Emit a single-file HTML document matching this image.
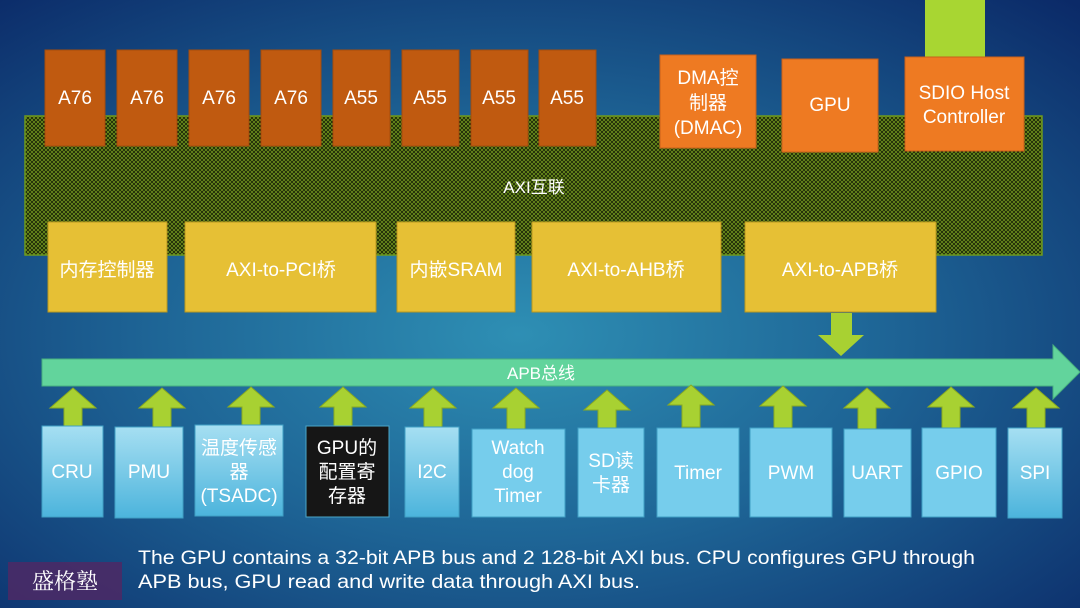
<!DOCTYPE html>
<html><head><meta charset="utf-8"><style>
body{margin:0;width:1080px;height:608px;overflow:hidden;font-family:"Liberation Sans","Noto Sans CJK SC",sans-serif;}
svg text{font-family:"Liberation Sans","Noto Sans CJK SC",sans-serif;fill:#fff;}
</style></head><body>
<svg width="1080" height="608" viewBox="0 0 1080 608" xmlns="http://www.w3.org/2000/svg">
<defs>
<radialGradient id="bg" cx="0.48" cy="0.55" r="0.75">
<stop offset="0" stop-color="#2e8fb4"/>
<stop offset="0.45" stop-color="#1e6596"/>
<stop offset="1" stop-color="#0b2a68"/>
</radialGradient>
<pattern id="hatch" width="4" height="4" patternUnits="userSpaceOnUse">
<rect width="4" height="4" fill="#101705"/>
<path d="M0 0L4 4M4 0L0 4" stroke="#66881a" stroke-width="1"/>
</pattern>
<linearGradient id="lb" x1="0" y1="0" x2="0" y2="1">
<stop offset="0" stop-color="#a6dff2"/><stop offset="1" stop-color="#4cb4dc"/>
</linearGradient>
<g id="up"><path d="M-9 38V16h-14L0 -4 23 16H9v22z" fill="#a8d132" stroke="#8aaa20" stroke-width="1"/></g>
</defs>
<rect width="1080" height="608" fill="url(#bg)"/>
<rect x="925" y="0" width="60" height="57" fill="#a8d632"/>
<rect x="25" y="116" width="1017" height="139" fill="url(#hatch)" stroke="#6f9a1c" stroke-width="1.5"/>
<text x="534" y="193" font-size="17" text-anchor="middle">AXI互联</text>
<g fill="#c05a10" stroke="#a34c0c">
<rect x="45" y="50" width="60" height="96"/><rect x="117" y="50" width="60" height="96"/>
<rect x="189" y="50" width="60" height="96"/><rect x="261" y="50" width="60" height="96"/>
<rect x="333" y="50" width="57" height="96"/><rect x="402" y="50" width="57" height="96"/>
<rect x="471" y="50" width="57" height="96"/><rect x="539" y="50" width="57" height="96"/>
</g>
<g font-size="19" text-anchor="middle">
<text x="75" y="104">A76</text><text x="147" y="104">A76</text><text x="219" y="104">A76</text><text x="291" y="104">A76</text>
<text x="361" y="104">A55</text><text x="430" y="104">A55</text><text x="499" y="104">A55</text><text x="567" y="104">A55</text>
</g>
<g fill="#ee7a22" stroke="#c8601a">
<rect x="660" y="55" width="96" height="93"/><rect x="782" y="59" width="96" height="93"/><rect x="905" y="57" width="119" height="94"/>
</g>
<g font-size="19" text-anchor="middle">
<text x="708" y="84">DMA控</text><text x="708" y="109">制器</text><text x="708" y="134">(DMAC)</text>
<text x="830" y="111">GPU</text>
<text x="964" y="99">SDIO Host</text><text x="964" y="123">Controller</text>
</g>
<g fill="#e6c035" stroke="#b8971e">
<rect x="48" y="222" width="119" height="90"/><rect x="185" y="222" width="191" height="90"/>
<rect x="397" y="222" width="118" height="90"/><rect x="532" y="222" width="189" height="90"/>
<rect x="745" y="222" width="191" height="90"/>
</g>
<g font-size="19" text-anchor="middle">
<text x="107" y="276">内存控制器</text><text x="281" y="276">AXI-to-PCI桥</text>
<text x="456" y="276">内嵌SRAM</text><text x="626" y="276">AXI-to-AHB桥</text><text x="840" y="276">AXI-to-APB桥</text>
</g>
<path d="M831 313h21v22h12l-23 21-23-21h13z" fill="#a8d132"/>
<path d="M42 359H1053V345L1080 372 1053 399V386H42z" fill="#62d49c" stroke="#48b080"/>
<text x="541" y="379" font-size="17" text-anchor="middle">APB总线</text>
<g>
<use href="#up" x="73" y="392"/><use href="#up" x="162" y="392"/><use href="#up" x="251" y="391"/>
<use href="#up" x="343" y="391"/><use href="#up" x="433" y="392"/><use href="#up" x="516" y="392"/>
<use href="#up" x="607" y="394"/><use href="#up" x="691" y="389"/><use href="#up" x="783" y="390"/>
<use href="#up" x="867" y="392"/><use href="#up" x="951" y="391"/><use href="#up" x="1036" y="392"/>
</g>
<g stroke="#3f9fc4" stroke-width="1">
<rect x="42" y="426" width="61" height="91" fill="url(#lb)"/>
<rect x="115" y="427" width="68" height="91" fill="url(#lb)"/>
<rect x="195" y="425" width="88" height="91" fill="url(#lb)"/>
<rect x="306" y="426" width="83" height="91" fill="#161616" stroke="#4aa6c8"/>
<rect x="405" y="427" width="54" height="90" fill="url(#lb)"/>
<rect x="472" y="429" width="93" height="88" fill="#76cdec"/>
<rect x="578" y="428" width="66" height="89" fill="#76cdec"/>
<rect x="657" y="428" width="82" height="89" fill="#76cdec"/>
<rect x="750" y="428" width="82" height="89" fill="#76cdec"/>
<rect x="844" y="429" width="67" height="88" fill="#76cdec"/>
<rect x="922" y="428" width="74" height="89" fill="#76cdec"/>
<rect x="1008" y="428" width="54" height="90" fill="url(#lb)"/>
</g>
<g font-size="19" text-anchor="middle">
<text x="72" y="478">CRU</text><text x="149" y="478">PMU</text>
<text x="239" y="454">温度传感</text><text x="239" y="478">器</text><text x="239" y="502">(TSADC)</text>
<text x="347" y="454">GPU的</text><text x="347" y="478">配置寄</text><text x="347" y="502">存器</text>
<text x="432" y="478">I2C</text>
<text x="518" y="454">Watch</text><text x="518" y="478">dog</text><text x="518" y="502">Timer</text>
<text x="611" y="467">SD读</text><text x="611" y="491">卡器</text>
<text x="698" y="479">Timer</text><text x="791" y="479">PWM</text><text x="877" y="479">UART</text>
<text x="959" y="479">GPIO</text><text x="1035" y="479">SPI</text>
</g>
<rect x="8" y="562" width="114" height="38" fill="#4a2a66" opacity="0.9"/>
<text x="65" y="589" font-size="22" text-anchor="middle" style="font-family:'Noto Serif CJK SC',serif">盛格塾</text>
<g font-size="19">
<text x="138" y="564" textLength="837" lengthAdjust="spacingAndGlyphs">The GPU contains a 32-bit APB bus and 2 128-bit AXI bus. CPU configures GPU through</text>
<text x="138" y="588" textLength="502" lengthAdjust="spacingAndGlyphs">APB bus, GPU read and write data through AXI bus.</text>
</g>
</svg>
</body></html>
